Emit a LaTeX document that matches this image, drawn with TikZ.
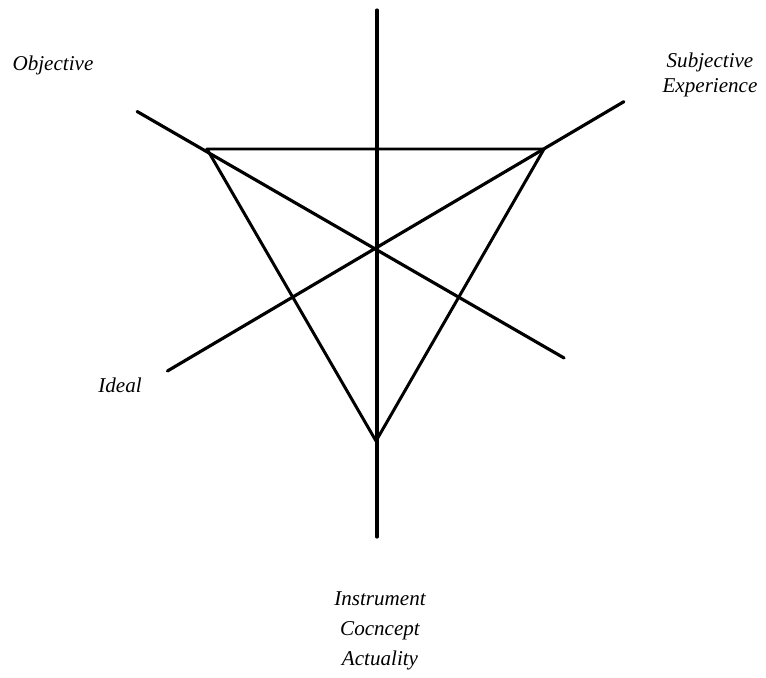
\documentclass[tikz,border=0pt]{standalone}
\usepackage{fontspec}
\setmainfont{Liberation Serif}
\usepackage{tikz}
\usetikzlibrary{calc,positioning}

\begin{document}
\begin{tikzpicture}[x=0.02cm,y=0.02cm,
  axis/.style={line width=1.8pt,line cap=round},
  edge/.style={line width=1.7pt,line join=round},
  lbl/.style={font=\large\itshape,align=center,inner sep=0pt}]
\useasboundingbox (0,0) rectangle (766,677);
% centre and triangle corners
\coordinate (O) at (377,427);
\coordinate (A) at (207,528);
\coordinate (B) at (544,528);
\coordinate (C) at (376,236);
% ends of the three axes
\coordinate (top) at ($(O)+(90:240)$);
\coordinate (bot) at ($(O)+(270:287)$);
\coordinate (ul) at ($(O)+(150:277)$);
\coordinate (lr) at ($(O)+(-30:216)$);
\coordinate (ll) at ($(O)+(210:242)$);
\coordinate (ur) at ($(O)+(31:288)$);
\draw[axis] (top) -- (bot);
\draw[axis] (ul) -- (lr);
\draw[axis] (ll) -- (ur);
\draw[edge] (A) -- (B) -- (C) -- cycle;
% labels
\node[lbl] (obj) at (53,612) {Objective};
\node[lbl] (subj) at (710,602) {Subjective\\Experience};
\node[lbl] (ideal) at (120,292) {Ideal};
\node[lbl] (inst) at (380,46) {Instrument\\[3pt]Cocncept\\[3pt]Actuality};
\end{tikzpicture}
\end{document}
